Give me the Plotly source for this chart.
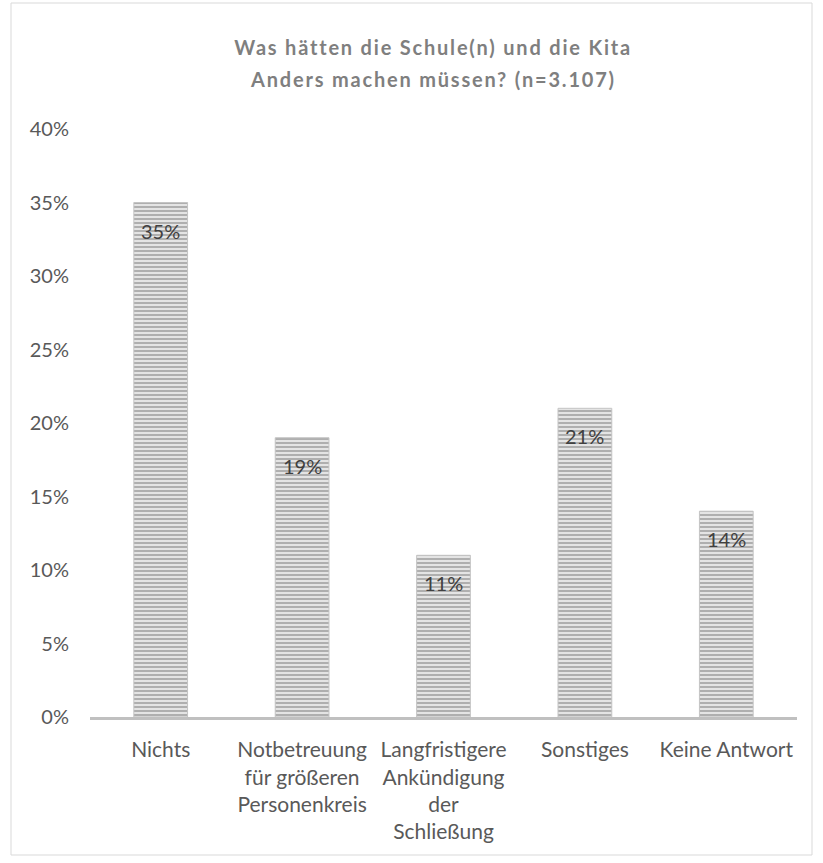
import plotly.graph_objects as go

# Survey answers and their shares
categories = [
    "Nichts",
    "Notbetreuung<br>für größeren<br>Personenkreis",
    "Langfristigere<br>Ankündigung<br>der<br>Schließung",
    "Sonstiges",
    "Keine Antwort",
]
shares = [0.35, 0.19, 0.11, 0.21, 0.14]
share_labels = ["35%", "19%", "11%", "21%", "14%"]
tick_values = [0, 0.05, 0.10, 0.15, 0.20, 0.25, 0.30, 0.35, 0.40]
tick_labels = ["0%", "5%", "10%", "15%", "20%", "25%", "30%", "35%", "40%"]

title_lines = ["Was hätten die Schule(n) und die Kita",
               "Anders machen müssen? (n=3.107)"]

FONT = "Lato, 'Open Sans', sans-serif"

fig = go.Figure(
    go.Bar(
        x=categories,
        y=shares,
        marker=dict(
            color="#dcdcdc",
            line=dict(color="#c4c4c4", width=1),
            pattern=dict(shape="-", fgcolor="#a9a9a9", bgcolor="#e4e4e4",
                         size=4, solidity=0.45, fillmode="replace"),
        ),
        hoverinfo="skip",
    )
)

W, H = 823, 863
L, R, T, B = 90, 26, 129, 146
pw, ph = W - L - R, H - T - B

# title, one annotation per line (indices 0 and 1)
for line, py in zip(title_lines, [47, 79]):
    fig.add_annotation(
        x=(433 - L) / pw, y=1 + (T - py) / ph, xref="paper", yref="paper",
        text=line, showarrow=False, xanchor="center", yanchor="middle",
        font=dict(family=FONT, size=20, color="#7f7f7f", weight="bold"),
    )

# value labels just below the top of each bar
for cat, val, lab in zip(categories, shares, share_labels):
    fig.add_annotation(
        x=cat, y=val, text=lab, showarrow=False,
        xanchor="center", yanchor="middle", yshift=-28,
        font=dict(family=FONT, size=20, color="#404040"),
    )

# outer frame of the chart area (pixel positions converted to paper units)
fx0, fx1 = (11 - L) / pw, (812 - L) / pw
fy0, fy1 = -(855 - (H - B)) / ph, ((H - B) - 3) / ph

fig.update_layout(
    width=W,
    height=H,
    margin=dict(l=L, r=R, t=T, b=B),
    paper_bgcolor="white",
    plot_bgcolor="white",
    bargap=0.62,
    showlegend=False,
    font=dict(family=FONT, size=20, color="#595959"),
    xaxis=dict(
        showline=True,
        linecolor="#c0c0c0",
        linewidth=3,
        ticks="",
        showgrid=False,
        ticklabelstandoff=12,
        tickfont=dict(family=FONT, size=21, color="#595959"),
    ),
    yaxis=dict(
        range=[0, 0.40],
        tickvals=tick_values,
        ticktext=tick_labels,
        showgrid=False,
        zeroline=False,
        showline=False,
        ticks="",
        ticklabelstandoff=20,
        tickfont=dict(family=FONT, size=20, color="#595959"),
    ),
    shapes=[
        dict(type="rect", xref="paper", yref="paper",
             x0=fx0, x1=fx1, y0=fy0, y1=fy1,
             line=dict(color="#d9d9d9", width=1), layer="below")
    ],
)

# widened letter spacing for the two title lines
spacing_css = """
var s = document.createElement('style');
s.innerHTML = 'g.annotation[data-index="0"] text, g.annotation[data-index="1"] text'
            + ' { letter-spacing: 1.8px; }';
document.head.appendChild(s);
"""

fig.write_html("out.html", post_script=spacing_css)
